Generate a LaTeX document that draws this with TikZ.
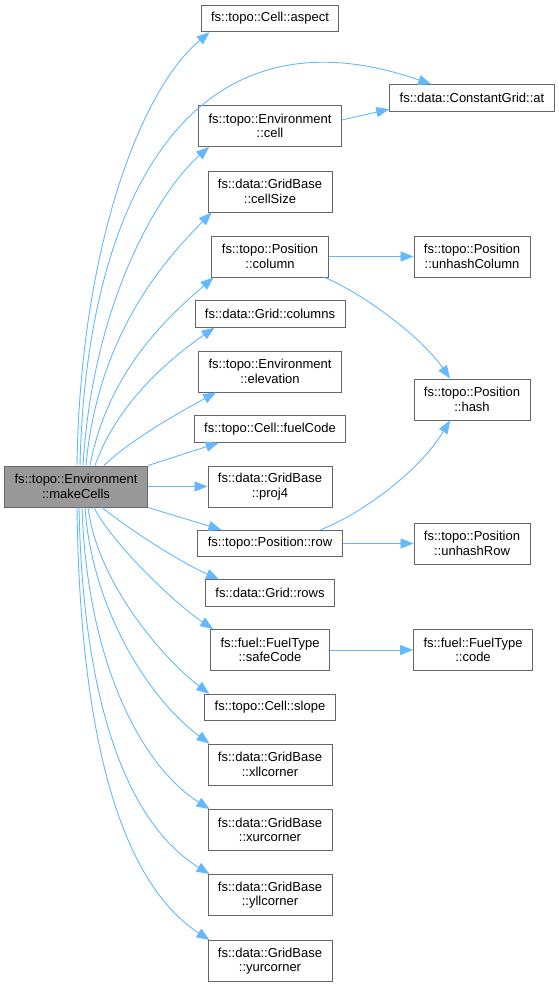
\documentclass[tikz,border=0pt]{standalone}
\usepackage{fontspec}
\setmainfont{Liberation Sans}
\usepackage{xcolor}
\usepackage{tikz}
\usetikzlibrary{arrows.meta}
\definecolor{edgeblue}{HTML}{63B8FF}
\definecolor{boxline}{HTML}{666666}
\definecolor{focusfill}{HTML}{999999}
\tikzset{
  fn/.style={draw=boxline, line width=0.9pt, fill=white, inner xsep=10pt, inner ysep=0pt,
    minimum height=26.5pt, align=center, font=\fontsize{13}{14.5}\selectfont},
  fntwo/.style={fn, minimum height=41pt},
  call/.style={draw=edgeblue, line width=0.9pt, -{Triangle[length=13pt,width=10pt]}}
}
\begin{document}
\begin{tikzpicture}[x=1pt, y=-1pt]
\useasboundingbox (0,0) rectangle (559,987);
% caller
\node[fntwo, fill=focusfill] (mk) at (76,486.5) {fs::topo::Environment\\::makeCells};
% called directly
\node[fn] (aspect) at (270,18.5) {fs::topo::Cell::aspect};
\node[fntwo] (cell) at (270,126) {fs::topo::Environment\\::cell};
\node[fntwo] (cellSize) at (270,191.5) {fs::data::GridBase\\::cellSize};
\node[fntwo] (column) at (270,256.5) {fs::topo::Position\\::column};
\node[fn] (columns) at (270,314) {fs::data::Grid::columns};
\node[fntwo] (elev) at (270,371.5) {fs::topo::Environment\\::elevation};
\node[fn] (fuelCode) at (270,429) {fs::topo::Cell::fuelCode};
\node[fntwo] (proj4) at (270,486.5) {fs::data::GridBase\\::proj4};
\node[fn] (row) at (270,543.5) {fs::topo::Position::row};
\node[fn] (rows) at (270,593) {fs::data::Grid::rows};
\node[fntwo] (safeCode) at (270,650) {fs::fuel::FuelType\\::safeCode};
\node[fn] (slope) at (270,707.5) {fs::topo::Cell::slope};
\node[fntwo] (xll) at (270,764.5) {fs::data::GridBase\\::xllcorner};
\node[fntwo] (xur) at (270,830) {fs::data::GridBase\\::xurcorner};
\node[fntwo] (yll) at (270,895) {fs::data::GridBase\\::yllcorner};
\node[fntwo] (yur) at (270,961) {fs::data::GridBase\\::yurcorner};
% second level
\node[fn] (cgAt) at (472,98) {fs::data::ConstantGrid::at};
\node[fntwo] (unhashCol) at (472,256.5) {fs::topo::Position\\::unhashColumn};
\node[fntwo] (hash) at (472,399.5) {fs::topo::Position\\::hash};
\node[fntwo] (unhashRow) at (472,543.5) {fs::topo::Position\\::unhashRow};
\node[fntwo] (ftCode) at (473,650) {fs::fuel::FuelType\\::code};

% calls out of makeCells
\draw[call] ([xshift=1pt]mk.north) .. controls (80,250) and (140,90) .. ([xshift=9pt]aspect.south west);
\draw[call] ([xshift=4pt]mk.north) .. controls (86,200) and (190,0) .. ([xshift=42pt]cgAt.north west);
\draw[call] ([xshift=7pt]mk.north) .. controls (93,300) and (160,190) .. ([xshift=11pt]cell.south west);
\draw[call] ([xshift=10pt]mk.north) .. controls (98,330) and (170,255) .. ([xshift=4pt]cellSize.south west);
\draw[call] ([xshift=14pt]mk.north) .. controls (108,370) and (170,315) .. ([xshift=2pt]column.south west);
\draw[call] ([xshift=19pt]mk.north) .. controls (118,400) and (175,355) .. ([xshift=20pt]columns.south west);
\draw[call] ([xshift=28pt]mk.north) .. controls (130,440) and (180,412) .. ([xshift=18pt]elev.south west);
\draw[call] (mk.north east) -- ([xshift=25pt]fuelCode.south west);
\draw[call] (mk.east) -- (proj4.west);
\draw[call] (mk.south east) -- ([xshift=24pt]row.north west);
\draw[call] ([xshift=26pt]mk.south) .. controls (130,530) and (180,562) .. ([xshift=14pt]rows.north west);
\draw[call] ([xshift=18pt]mk.south) .. controls (110,540) and (170,600) .. ([xshift=3pt]safeCode.north west);
\draw[call] ([xshift=12pt]mk.south) .. controls (98,585) and (165,660) .. ([xshift=5pt]slope.north west);
\draw[call] ([xshift=9pt]mk.south) .. controls (92,610) and (150,700) .. ([xshift=2pt]xll.north west);
\draw[call] ([xshift=6pt]mk.south) .. controls (87,660) and (140,765) .. ([xshift=2pt]xur.north west);
\draw[call] ([xshift=3pt]mk.south) .. controls (83,710) and (130,825) .. ([xshift=2pt]yll.north west);
\draw[call] ([xshift=1pt]mk.south) .. controls (80,750) and (125,885) .. ([xshift=2pt]yur.north west);

% calls further right
\draw[call] ([yshift=6pt]cell.east) -- ([yshift=2.5pt]cgAt.south west);
\draw[call] (column.east) -- (unhashCol.west);
\draw[call] ([xshift=-4pt]column.south east) .. controls (360,292) and (420,335) .. ([xshift=-22pt]hash.north);
\draw[call] ([xshift=-22pt]row.north east) .. controls (365,512) and (420,470) .. ([xshift=-22pt]hash.south);
\draw[call] (row.east) -- (unhashRow.west);
\draw[call] (safeCode.east) -- (ftCode.west);
\end{tikzpicture}
\end{document}
